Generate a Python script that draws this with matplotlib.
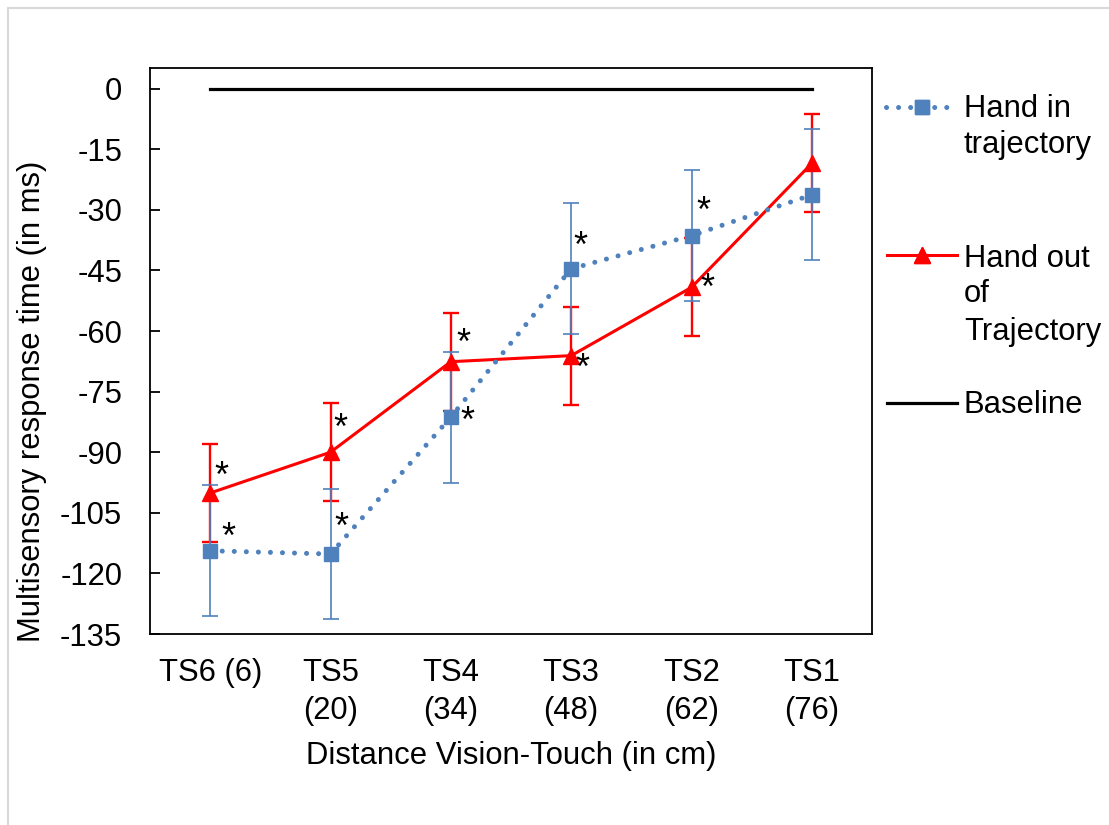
import numpy as np
import matplotlib
matplotlib.use("Agg")
import matplotlib.pyplot as plt
from matplotlib.lines import Line2D
from matplotlib.patches import Rectangle

# categories (distance vision-touch)
categories = ["TS6 (6)", "TS5\n(20)", "TS4\n(34)", "TS3\n(48)", "TS2\n(62)", "TS1\n(76)"]

# mean multisensory response time gain (ms)
hand_in = [-114.4, -115.2, -81.3, -44.6, -36.4, -26.3]
hand_in_err = [16.2, 16.2, 16.2, 16.2, 16.2, 16.2]
hand_out = [-100.1, -90.0, -67.6, -66.1, -49.2, -18.5]
hand_out_err = [12.1, 12.1, 12.1, 12.1, 12.1, 12.1]
baseline = [0, 0, 0, 0, 0, 0]

# significance stars
sig_in = [True, True, True, True, True, False]
sig_out = [True, True, True, True, True, False]

yticks = [0, -15, -30, -45, -60, -75, -90, -105, -120, -135]

BLUE = "#4F81BD"
RED = "#FF0000"
W, H = 1109, 825

plt.rcParams['font.family'] = ['Liberation Sans', 'DejaVu Sans']
fs = 22.3

fig = plt.figure(figsize=(W / 100, H / 100), dpi=100)
# chart area border
fig.add_artist(Rectangle((7.5 / W, -0.01), 1.05, 1 - 7.5 / H + 0.01,
                         transform=fig.transFigure, fill=False,
                         edgecolor="#D9D9D9", linewidth=1.5))

ax = fig.add_axes([150 / W, (H - 634) / H, (872 - 150) / W, (634 - 68) / H])
x = np.arange(len(categories))

# baseline
ax.plot(x, baseline, color="black", linewidth=2.3, zorder=2)

# hand out of trajectory
ax.errorbar(x, hand_out, yerr=hand_out_err, fmt="none", ecolor=RED,
            elinewidth=1.7, capsize=6, capthick=1.7, zorder=3)
ax.plot(x, hand_out, color=RED, linewidth=2.2, marker="^", markersize=11,
        zorder=4)

# hand in trajectory
ax.errorbar(x, hand_in, yerr=hand_in_err, fmt="none", ecolor=BLUE,
            elinewidth=1.2, capsize=6, capthick=1.2, zorder=3)
ax.plot(x, hand_in, color=BLUE, linewidth=3.6, linestyle=(0, (0.01, 2.4)),
        dash_capstyle="round", zorder=5)
ax.plot(x, hand_in, linestyle="none", marker="s", markersize=10.5,
        color=BLUE, zorder=6)

# asterisks (offsets in pixels, right of each point)
off_in = [(18, -12), (11, -26), (17, 5), (9, -21), (12, -23), (0, 0)]
off_out = [(11, -16), (10, -23), (13, -17), (11, 14), (16, 2), (0, 0)]
for i in range(len(x)):
    if sig_in[i]:
        ax.annotate("*", (x[i], hand_in[i]), xytext=(off_in[i][0] * 0.72, -off_in[i][1] * 0.72),
                    textcoords="offset points", ha="center", va="center",
                    fontsize=26, zorder=7)
    if sig_out[i]:
        ax.annotate("*", (x[i], hand_out[i]), xytext=(off_out[i][0] * 0.72, -off_out[i][1] * 0.72),
                    textcoords="offset points", ha="center", va="center",
                    fontsize=26, zorder=7)

ax.set_xlim(-0.5, len(x) - 0.5)
ax.set_ylim(-135, 5.1)
ax.set_yticks(yticks)
ax.set_yticklabels([str(v) for v in yticks], fontsize=fs)
ax.set_xticks(x)
ax.set_xticklabels(categories, fontsize=fs, linespacing=1.35)
ax.tick_params(axis="y", direction="in", length=7, width=1.3, pad=20)
ax.tick_params(axis="x", length=0, pad=17)
for s in ax.spines.values():
    s.set_linewidth(1.3)

def px(xp, yp):
    return xp / W, 1 - yp / H

fig.text(*px(32, 401), "Multisensory response time (in ms)", rotation=90,
         ha="center", va="center", fontsize=fs)
fig.text(*px(511, 764), "Distance Vision-Touch (in cm)", ha="center",
         va="baseline", fontsize=fs)

# legend
def leg_line(x0, x1, y, **kw):
    (a, b), (c, d) = px(x0, y), px(x1, y)
    fig.add_artist(Line2D([a, c], [b, d], transform=fig.transFigure, **kw))

leg_line(886, 952, 107, color=BLUE, linewidth=3.6, linestyle=(0, (0.01, 2.4)),
         dash_capstyle="round")
leg_line(922, 922, 107, color=BLUE, marker="s", markersize=10.5, linestyle="none")
leg_line(887, 957, 255, color=RED, linewidth=2.2)
leg_line(922, 922, 255, color=RED, marker="^", markersize=11, linestyle="none")
leg_line(887, 957, 403, color="black", linewidth=2.3)

legend_lines = [("Hand in", 116.7), ("trajectory", 153.3), ("Hand out", 266.7),
                ("of", 302.3), ("Trajectory", 340), ("Baseline", 413.3)]
for t, yb in legend_lines:
    fig.text(*px(964, yb), t, ha="left", va="baseline", fontsize=fs)

fig.savefig("out.png", dpi=100)
